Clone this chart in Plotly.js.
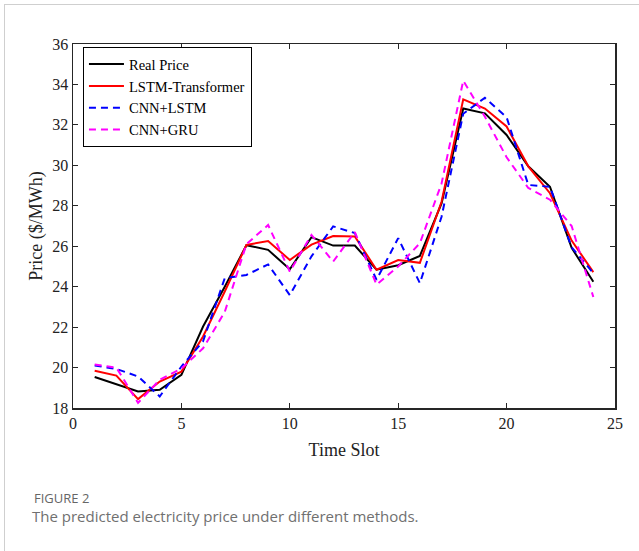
<!DOCTYPE html>
<html>
<head>
<meta charset="utf-8">
<script src="https://cdn.plot.ly/plotly-3.0.1.min.js"></script>
<style>
  html, body { margin: 0; padding: 0; background: #fff; }
  #chart { width: 639px; height: 551px; position: absolute; left: 0; top: 0; }
  #frame { position: absolute; left: 4px; top: 4px; width: 640px; height: 560px;
           border-left: 1px solid #cfcfcf; border-top: 1px solid #cfcfcf; pointer-events: none; }
</style>
</head>
<body>
<div id="chart"></div>
<div id="frame"></div>
<script>
const timeSlots = [1,2,3,4,5,6,7,8,9,10,11,12,13,14,15,16,17,18,19,20,21,22,23,24];
const realPrice = [19.53,19.18,18.82,18.9,19.64,22.03,24.0,26.05,25.82,24.86,26.45,26.03,26.03,24.84,25.06,25.52,28.12,32.81,32.57,31.5,29.95,28.94,25.92,24.24];
const lstmTransformer = [19.84,19.6,18.44,19.31,19.8,21.54,23.76,26.06,26.26,25.32,26.08,26.5,26.48,24.84,25.32,25.18,28.2,33.26,32.81,31.92,29.95,28.62,26.28,24.72];
const cnnLstm = [20.1,19.93,19.56,18.57,20.05,21.3,24.42,24.58,25.1,23.58,25.5,26.98,26.65,24.34,26.4,24.17,27.46,32.55,33.34,32.38,29.03,28.94,25.95,24.67];
const cnnGru = [20.15,20.0,18.25,19.4,19.95,20.95,22.75,26.1,27.05,24.75,26.56,25.24,26.7,24.1,25.0,26.15,29.1,34.19,32.4,30.4,28.88,28.3,27.0,23.49];
const xTicks = [0,5,10,15,20,25];
const yTicks = [18,20,22,24,26,28,30,32,34,36];

const serif = "'Liberation Serif', 'Times New Roman', serif";
const traces = [
  {x: timeSlots, y: realPrice, name: 'Real Price', mode: 'lines', line: {color: '#000000', width: 2}},
  {x: timeSlots, y: lstmTransformer, name: 'LSTM-Transformer', mode: 'lines', line: {color: '#ff0000', width: 2}},
  {x: timeSlots, y: cnnLstm, name: 'CNN+LSTM', mode: 'lines', line: {color: '#0000ff', width: 2, dash: '7px,5px'}},
  {x: timeSlots, y: cnnGru, name: 'CNN+GRU', mode: 'lines', line: {color: '#ff00ff', width: 2, dash: '7px,5px'}}
];

const axisCommon = {
  showgrid: false, zeroline: false, showline: true, linecolor: '#262626', linewidth: 1.5,
  mirror: 'allticks', ticks: 'inside', ticklen: 5, tickwidth: 1.2, tickcolor: '#262626',
  tickfont: {family: serif, size: 16, color: '#222'}
};

const layout = {
  width: 639, height: 551,
  margin: {l: 73, r: 24, t: 44, b: 143},
  paper_bgcolor: '#ffffff', plot_bgcolor: '#ffffff',
  showlegend: true,
  legend: {
    x: 0.018, y: 0.992, xanchor: 'left', yanchor: 'top',
    bgcolor: '#ffffff', bordercolor: '#000000', borderwidth: 1.2,
    font: {family: serif, size: 14.5, color: '#000'},
    itemwidth: 35, tracegroupgap: 0
  },
  xaxis: Object.assign({}, axisCommon, {
    range: [0, 25], tickvals: xTicks, ticktext: xTicks.map(String),
    title: {text: 'Time Slot', font: {family: serif, size: 18, color: '#222'}, standoff: 12}
  }),
  yaxis: Object.assign({}, axisCommon, {
    range: [18, 36], tickvals: yTicks, ticktext: yTicks.map(String),
    title: {text: 'Price ($/MWh)', font: {family: serif, size: 18, color: '#222'}, standoff: 5}
  }),
  annotations: [
    {xref: 'paper', yref: 'paper', x: -0.076, y: -0.248, xanchor: 'left', yanchor: 'middle',
     text: 'FIGURE 2', showarrow: false,
     font: {family: "'Open Sans', 'Noto Sans', sans-serif", size: 13, color: '#666666'}},
    {xref: 'paper', yref: 'paper', x: -0.08, y: -0.297, xanchor: 'left', yanchor: 'middle',
     text: 'The predicted electricity price under different methods.', showarrow: false,
     font: {family: "'Open Sans', 'Noto Sans', sans-serif", size: 15, color: '#707070'}}
  ]
};

Plotly.newPlot('chart', traces, layout, {displayModeBar: false, staticPlot: true});
</script>
</body>
</html>
